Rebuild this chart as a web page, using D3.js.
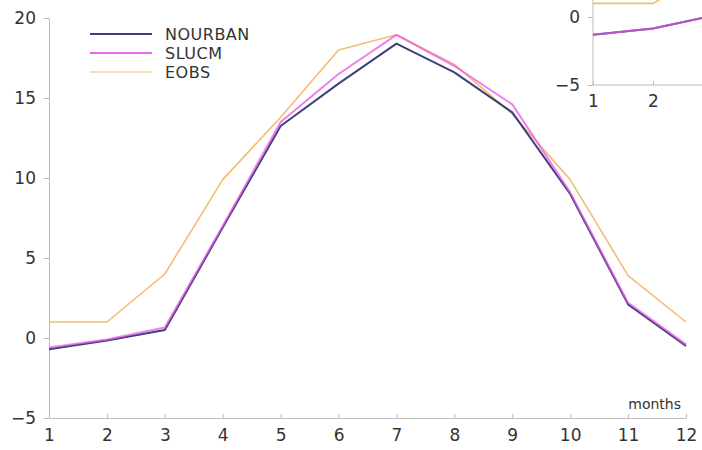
<!DOCTYPE html>
<html>
<head>
<meta charset="utf-8">
<script src="https://cdn.jsdelivr.net/npm/d3@7"></script>
<style>
  html, body { margin: 0; padding: 0; background: #fff; }
  svg { display: block; font-family: "DejaVu Sans", sans-serif; }
</style>
</head>
<body>
<svg id="chart" width="702" height="450"></svg>
<script>
const months = [1, 2, 3, 4, 5, 6, 7, 8, 9, 10, 11, 12];
const nourban = [-0.7, -0.15, 0.5, 6.9, 13.25, 15.9, 18.4, 16.6, 14.1, 9.0, 2.1, -0.5];
const slucm   = [-0.6, -0.1, 0.65, 7.0, 13.5, 16.5, 18.95, 17.0, 14.6, 9.1, 2.2, -0.4];
const eobs    = [1.0, 1.0, 4.0, 9.9, 13.8, 18.0, 18.95, 17.1, 14.0, 9.9, 3.9, 1.0];
const yTicks = [-5, 0, 5, 10, 15, 20];
const seriesNames = ["NOURBAN", "SLUCM", "EOBS"];

// inset (partially visible panel in the upper right corner)
const insetMonths = [1, 2, 3];
const insetNourban = [-1.3, -0.85, 0.1];
const insetSlucm = [-1.3, -0.85, 0.1];
const insetEobs = [1.0, 1.0, 3.5];
const insetYTicks = [-5, 0];
const insetXTicks = [1, 2];

const colors = { NOURBAN: "#2b2a6e", SLUCM: "#e455e8", EOBS: "#f4b561" };

const svg = d3.select("#chart");
const x = d3.scaleLinear().domain([1, 12]).range([49, 686]);
const y = d3.scaleLinear().domain([-5, 20]).range([418, 18]);
const fmt = d => d < 0 ? "\u2212" + Math.abs(d) : String(d);

function styleAxis(g) {
  g.selectAll(".domain").attr("stroke", "#bbbbbb");
  g.selectAll(".tick line").attr("stroke", "#bbbbbb");
  g.selectAll(".tick text").attr("fill", "#333").style("font-size", "17px")
    .style("font-family", "DejaVu Sans, sans-serif");
}

// main axes
const gx = svg.append("g").attr("transform", "translate(0,418)")
  .call(d3.axisBottom(x).tickValues(months).tickFormat(d => d).tickSizeInner(-4).tickSizeOuter(0).tickPadding(9));
styleAxis(gx);
gx.selectAll(".tick text").attr("dy", "0.85em");
const gy = svg.append("g").attr("transform", "translate(49,0)")
  .call(d3.axisLeft(y).tickValues(yTicks).tickFormat(fmt).tickSize(5).tickSizeOuter(0).tickPadding(8));
styleAxis(gy);

svg.append("text").attr("x", 681).attr("y", 409).attr("text-anchor", "end")
  .attr("fill", "#333").style("font-size", "14px").text("months");

const line = d3.line().x((d, i) => x(months[i])).y(d => y(d));
const data = { NOURBAN: nourban, SLUCM: slucm, EOBS: eobs };
["EOBS", "NOURBAN", "SLUCM"].forEach(name => {
  svg.append("path").datum(data[name]).attr("d", line)
    .attr("fill", "none").attr("stroke", colors[name])
    .attr("stroke-width", name === "EOBS" ? 1.6 : 2)
    .attr("stroke-opacity", name === "SLUCM" ? 0.75 : 0.9)
    .attr("stroke-linejoin", "round");
});

// legend
const leg = svg.append("g");
seriesNames.forEach((name, i) => {
  const yy = 34 + i * 19;
  leg.append("line").attr("x1", 90).attr("x2", 152).attr("y1", yy).attr("y2", yy)
    .attr("stroke", colors[name]).attr("stroke-width", name === "EOBS" ? 1.4 : 1.8)
    .attr("stroke-opacity", name === "EOBS" ? 0.6 : 0.9);
  leg.append("text").attr("x", 165).attr("y", yy).attr("dy", "0.36em")
    .attr("fill", "#333").style("font-size", "16px").style("letter-spacing", "0.5px").text(name);
});

// inset panel
const ix = d3.scaleLinear().domain([1, 2]).range([593, 653]);
const iy = d3.scaleLinear().domain([-5, 0]).range([85, 17]);
const inset = svg.append("g");
inset.append("rect").attr("x", 545).attr("y", 0).attr("width", 157).attr("height", 120).attr("fill", "#fff");
const igx = inset.append("g").attr("transform", "translate(0,85)")
  .call(d3.axisBottom(ix).tickValues(insetXTicks).tickFormat(d => d).tickSizeInner(-4).tickSizeOuter(0).tickPadding(8));
igx.select(".domain").attr("d", `M${ix(1)},0H${ix(3.2)}`);
styleAxis(igx);
igx.selectAll(".tick text").attr("dy", "0.85em");
const igy = inset.append("g").attr("transform", "translate(593,0)")
  .call(d3.axisLeft(iy).tickValues(insetYTicks).tickFormat(fmt).tickSize(5).tickSizeOuter(0).tickPadding(8));
igy.select(".domain").attr("d", `M0,${iy(-5)}V${iy(1.5)}`);
styleAxis(igy);
const iline = d3.line().x((d, i) => ix(insetMonths[i])).y(d => iy(d));
const idata = { NOURBAN: insetNourban, SLUCM: insetSlucm, EOBS: insetEobs };
["EOBS", "NOURBAN", "SLUCM"].forEach(name => {
  inset.append("path").datum(idata[name]).attr("d", iline)
    .attr("fill", "none").attr("stroke", colors[name])
    .attr("stroke-width", name === "EOBS" ? 1.6 : 2)
    .attr("stroke-opacity", name === "SLUCM" ? 0.75 : 0.9);
});
</script>
</body>
</html>
